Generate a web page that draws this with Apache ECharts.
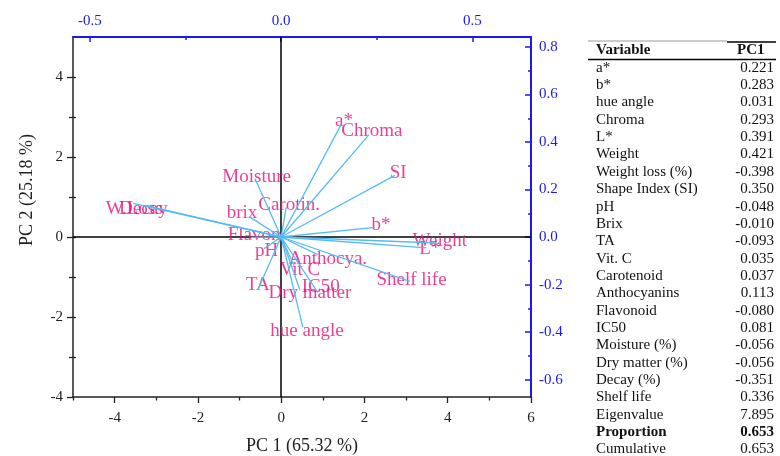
<!DOCTYPE html>
<html>
<head>
<meta charset="utf-8">
<script src="https://cdn.jsdelivr.net/npm/echarts@6/dist/echarts.min.js"></script>
<style>html,body{margin:0;padding:0;background:#fff}#c{width:780px;height:456px}</style>
</head>
<body>
<div id="c"></div>
<script>
// ---- biplot data (PC1/PC2 score-axis units) ----
const varNames = ["a*","Chroma","SI","b*","Weight","L*","Shelf life","Carotin.","Moisture","brix","W.Loss","Decay","Flavon","pH","TA","Vit C","Anthocya.","IC50","Dry matter","hue angle"];
const tipX   = [1.44, 2.11, 2.73, 2.25, 3.73, 3.49, 3.09, 0.12, -0.63, -0.77, -3.55, -3.27, -0.73, -0.41, -0.56, 0.31, 0.88, 0.88, 0.45, 0.52];
const tipY   = [2.81, 2.56, 1.54, 0.24, -0.15, -0.27, -1.11, 0.74, 1.46, 0.51, 0.84, 0.79, -0.01, -0.29, -1.32, -0.72, -0.44, -1.39, -1.32, -2.26];
const labelX = [1.51, 2.18, 2.81, 2.40, 3.81, 3.57, 3.13, 0.19, -0.59, -0.94, -3.53, -3.31, -0.65, -0.35, -0.56, 0.45, 1.12, 0.95, 0.69, 0.62];
const labelY = [2.91, 2.64, 1.61, 0.31, -0.11, -0.29, -1.07, 0.79, 1.51, 0.61, 0.71, 0.71, 0.06, -0.35, -1.19, -0.82, -0.54, -1.26, -1.41, -2.34];

// ---- axes ----
const xMin = -5, xMax = 6, yMin = -4, yMax = 5;
const xTickLabels = [-4, -2, 0, 2, 4, 6];
const xMinorTicks = [-5, -3, -1, 1, 3, 5];
const yTickLabels = [-4, -2, 0, 2, 4];
const yMinorTicks = [-3, -1, 1, 3];
const yAllTicks = [-3, -2, -1, 0, 1, 2, 3, 4];
const topMin = -0.544, topMax = 0.653;
const topTickLabels = [-0.5, 0.0, 0.5];
const topMinorTicks = [-0.25, 0.25];
const rightMin = -0.673, rightMax = 0.842;
const rightTickLabels = [-0.6, -0.4, -0.2, 0.0, 0.2, 0.4, 0.6, 0.8];
const rightMinorTicks = [-0.5, -0.3, -0.1, 0.1, 0.3, 0.5, 0.7];
const xTitle = "PC 1 (65.32 %)";
const yTitle = "PC 2 (25.18 %)";

// ---- loadings table ----
const tableHeader = ["Variable", "PC1"];
const tableVars = ["a*","b*","hue angle","Chroma","L*","Weight","Weight loss (%)","Shape Index (SI)","pH","Brix","TA","Vit. C","Carotenoid","Anthocyanins","Flavonoid","IC50","Moisture (%)","Dry matter (%)","Decay (%)","Shelf life","Eigenvalue","Proportion","Cumulative"];
const tableVals = ["0.221","0.283","0.031","0.293","0.391","0.421","-0.398","0.350","-0.048","-0.010","-0.093","0.035","0.037","0.113","-0.080","0.081","-0.056","-0.056","-0.351","0.336","7.895","0.653","0.653"];
const tableBold = ["Proportion"];

const FONT = "'Liberation Serif','Times New Roman',serif";
const BLUE = '#1a1af0';
const PINK = '#e4107a';
const LINEBLUE = '#55bbf6';
const AXC = '#222';

const chart = echarts.init(document.getElementById('c'), null, {renderer: 'canvas'});

const graphics = [];
graphics.push({type:'text', x: 302, y: 446, silent:true,
  style:{text: xTitle, font: '18px ' + FONT, fill: AXC, align:'center', verticalAlign:'middle'}});
graphics.push({type:'text', x: 27, y: 190, rotation: Math.PI/2, silent:true,
  style:{text: yTitle, font: '18px ' + FONT, fill: AXC, align:'center', verticalAlign:'middle'}});
// table
const tLeft = 596, tRight = 774, headY = 50.5, row0 = 67.8, rowH = 17.35;
graphics.push({type:'line', silent:true, shape:{x1:588,y1:41,x2:727,y2:41}, style:{stroke:'#999', lineWidth:1}});
graphics.push({type:'line', silent:true, shape:{x1:727,y1:42,x2:776,y2:42}, style:{stroke:'#000', lineWidth:1.5}});
graphics.push({type:'line', silent:true, shape:{x1:588,y1:59.5,x2:776,y2:59.5}, style:{stroke:'#000', lineWidth:1.3}});
graphics.push({type:'text', x:tLeft, y:headY, silent:true,
  style:{text: tableHeader[0], font:'bold 15px ' + FONT, fill:'#111', align:'left', verticalAlign:'middle'}});
graphics.push({type:'text', x:737, y:headY, silent:true,
  style:{text: tableHeader[1], font:'bold 15px ' + FONT, fill:'#111', align:'left', verticalAlign:'middle'}});
tableVars.forEach((v, i) => {
  const b = tableBold.indexOf(v) >= 0 ? 'bold ' : '';
  const y = row0 + i * rowH;
  graphics.push({type:'text', x:tLeft, y:y, silent:true,
    style:{text: v, font: b + '15px ' + FONT, fill:'#111', align:'left', verticalAlign:'middle'}});
  graphics.push({type:'text', x:tRight, y:y, silent:true,
    style:{text: tableVals[i], font: b + '15px ' + FONT, fill:'#111', align:'right', verticalAlign:'middle'}});
});

const lblStyle = {fontFamily: FONT, fontSize: 15, color: AXC};
const option = {
  animation: false,
  backgroundColor: '#fff',
  grid: {left: 73, top: 37, right: 249, bottom: 59, containLabel: false},
  xAxis: [
    {type:'value', position:'bottom', min:xMin, max:xMax,
     axisLine:{show:true, onZero:false, lineStyle:{color:AXC, width:1.5}},
     axisTick:{show:true, inside:false, length:6, customValues:xTickLabels, lineStyle:{color:AXC, width:1.3}},
     axisLabel:{show:true, customValues:xTickLabels, margin:14, ...lblStyle},
     splitLine:{show:false}},
    {type:'value', position:'bottom', min:xMin, max:xMax,
     axisLine:{show:false, onZero:false},
     axisTick:{show:true, inside:false, length:3.5, customValues:xMinorTicks, lineStyle:{color:AXC, width:1.3}},
     axisLabel:{show:false}, splitLine:{show:false}},
    {type:'value', position:'top', min:topMin, max:topMax,
     axisLine:{show:true, onZero:false, lineStyle:{color:BLUE, width:2}},
     axisTick:{show:true, inside:true, length:5, customValues:topTickLabels, lineStyle:{color:BLUE, width:1.5}},
     axisLabel:{show:true, customValues:topTickLabels, margin:8, fontFamily:FONT, fontSize:15, color:BLUE,
       formatter: v => v.toFixed(1)},
     splitLine:{show:false}},
    {type:'value', position:'top', min:topMin, max:topMax,
     axisLine:{show:false, onZero:false},
     axisTick:{show:true, inside:true, length:3, customValues:topMinorTicks, lineStyle:{color:BLUE, width:1.5}},
     axisLabel:{show:false}, splitLine:{show:false}}
  ],
  yAxis: [
    {type:'value', position:'left', min:yMin, max:yMax,
     axisLine:{show:true, onZero:false, lineStyle:{color:AXC, width:1.5}},
     axisTick:{show:true, inside:false, length:6, customValues:yTickLabels, lineStyle:{color:AXC, width:1.3}},
     axisLabel:{show:true, customValues:yTickLabels, margin:10, ...lblStyle},
     splitLine:{show:false}},
    {type:'value', position:'left', min:yMin, max:yMax,
     axisLine:{show:false, onZero:false},
     axisTick:{show:true, inside:false, length:4, customValues:yMinorTicks, lineStyle:{color:AXC, width:1.3}},
     axisLabel:{show:false}, splitLine:{show:false}},
    {type:'value', position:'left', min:yMin, max:yMax,
     axisLine:{show:false, onZero:false},
     axisTick:{show:true, inside:true, length:3, customValues:yAllTicks, lineStyle:{color:AXC, width:1.3}},
     axisLabel:{show:false}, splitLine:{show:false}},
    {type:'value', position:'right', min:rightMin, max:rightMax,
     axisLine:{show:true, onZero:false, lineStyle:{color:BLUE, width:2}},
     axisTick:{show:true, inside:true, length:6, customValues:rightTickLabels, lineStyle:{color:BLUE, width:1.5}},
     axisLabel:{show:true, customValues:rightTickLabels, margin:8, fontFamily:FONT, fontSize:15, color:BLUE,
       formatter: v => v.toFixed(1)},
     splitLine:{show:false}},
    {type:'value', position:'right', min:rightMin, max:rightMax,
     axisLine:{show:false, onZero:false},
     axisTick:{show:true, inside:true, length:3, customValues:rightMinorTicks, lineStyle:{color:BLUE, width:1.5}},
     axisLabel:{show:false}, splitLine:{show:false}}
  ],
  series: [
    {type:'scatter', xAxisIndex:0, yAxisIndex:0, z:2, silent:true,
     symbolSize: 0.1, itemStyle:{color:'rgba(0,0,0,0)'},
     data: varNames.map((n, i) => ({name:n, value:[labelX[i], labelY[i]]})),
     label:{show:true, position:'inside', formatter: p => p.name,
       fontFamily: FONT, fontSize: 19, color: PINK},
     markLine:{silent:true, symbol:['none','none'], label:{show:false}, z:1,
       lineStyle:{color:'#000', width:1.5, type:'solid'},
       data:[{xAxis:0},{yAxis:0}]}},
    {type:'lines', coordinateSystem:'cartesian2d', xAxisIndex:0, yAxisIndex:0, z:5, silent:true,
     lineStyle:{color:LINEBLUE, width:1.3, opacity:1},
     data: varNames.map((n, i) => ({coords:[[0, 0], [tipX[i], tipY[i]]]}))}
  ],
  graphic: graphics
};
chart.setOption(option);
</script>
</body>
</html>
